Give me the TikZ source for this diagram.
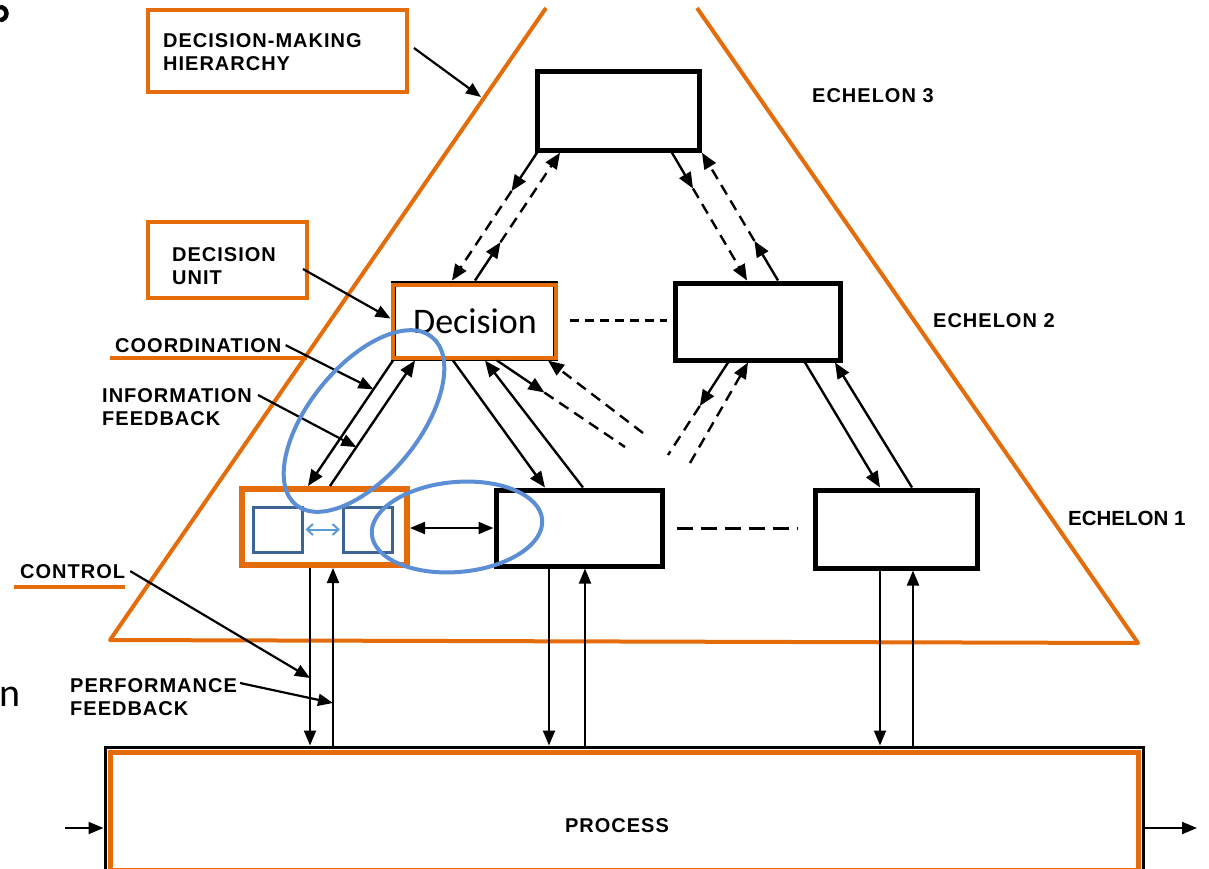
\documentclass[tikz,border=0pt]{standalone}
\usepackage{fontspec}
\setmainfont{Liberation Sans}
\newfontfamily\scanfont{Liberation Sans}[LetterSpace=5]
\newfontfamily\calfont{Carlito}
\usetikzlibrary{arrows.meta,calc,shapes.geometric}
\definecolor{orng}{RGB}{228,108,10}
\definecolor{ellblue}{RGB}{91,142,212}
\definecolor{sqblue}{RGB}{62,100,150}
\definecolor{arrblue}{RGB}{91,155,213}
\begin{document}
\begin{tikzpicture}[x=1pt,y=-1pt,
  ubox/.style={draw=black, line width=5pt, rectangle, inner sep=0pt},
  obox/.style={draw=orng, line width=4pt, rectangle, inner sep=0pt},
  conn/.style={line width=2.4pt, -{Triangle[length=16pt,width=13pt]}},
  vconn/.style={line width=2pt, -{Triangle[length=15pt,width=12pt]}},
  dconn/.style={conn, dash pattern=on 11pt off 7pt},
  dline/.style={line width=2.4pt, dash pattern=on 11pt off 7pt},
  larr/.style={line width=2.2pt, -{Triangle[length=15pt,width=12pt]}},
  lab/.style={font=\scanfont\bfseries\fontsize{20}{23}\selectfont, inner sep=0pt, align=left},
  sq/.style={draw=sqblue, line width=3pt, rectangle, inner sep=0pt, minimum width=49pt, minimum height=45pt},
  ell/.style={draw=ellblue, line width=4pt, ellipse, inner sep=0pt},
]
\useasboundingbox (0,0) rectangle (1209,868);
\fill[white] (0,0) rectangle (1209,868);
\clip (0,0) rectangle (1209,868);

% cut-off slide fragments
\draw[line width=4.5pt] (0,20) arc[start angle=90, end angle=-90, radius=6.5];
\node[font=\calfont\fontsize{40}{44}\selectfont, anchor=base west, inner sep=0pt] (fragB) at (-1,706) {n};

% orange hierarchy triangle
\draw[orng, line width=4pt, line join=round] (546,8) -- (110,640) -- (1138,643) -- (697,8);

% decision units
\node[ubox, minimum width=162pt, minimum height=78.5pt] (e3) at (618,111) {};
\node[ubox, minimum width=162pt, minimum height=75pt] (e2L) at (474,320.5) {};
\node[ubox, minimum width=164.5pt, minimum height=77pt] (e2R) at (758,321.5) {};
\node[obox, line width=6pt, minimum width=165pt, minimum height=76pt] (e1L) at (324.5,527) {};
\node[ubox, minimum width=166pt, minimum height=76pt] (e1M) at (579,528) {};
\node[ubox, minimum width=162pt, minimum height=78pt] (e1R) at (896,529) {};
\node[ubox, line width=3pt, minimum width=1038pt, minimum height=123pt] (proc) at (624,808.5) {};
\draw[orng, line width=4pt] (392.5,285) rectangle (555.5,358);
\draw[orng, line width=5pt] (110,752) rectangle (1138,870);
\node[font=\calfont\fontsize{36}{40}\selectfont, anchor=base, inner sep=0pt] (dectx) at (475,333) {Decision};

% echelon 3 <-> echelon 2
\coordinate (c1a) at (537,0 |- e3.south);
\coordinate (c1b) at (452,0 |- e2L.north);
\coordinate (c1m) at ($(c1a)!0.3!(c1b)$);
\draw[conn] (c1a) -- (c1m);
\draw[dconn] (c1m) -- (c1b);
\coordinate (c2a) at (475,0 |- e2L.north);
\coordinate (c2b) at (560,0 |- e3.south);
\coordinate (c2m) at ($(c2a)!0.3!(c2b)$);
\draw[conn] (c2a) -- (c2m);
\draw[dconn] (c2m) -- (c2b);
\coordinate (c3a) at (672,0 |- e3.south);
\coordinate (c3b) at (747,0 |- e2R.north);
\coordinate (c3m) at ($(c3a)!0.28!(c3b)$);
\draw[conn] (c3a) -- (c3m);
\draw[dconn] (c3m) -- (c3b);
\coordinate (c4a) at (778,0 |- e2R.north);
\coordinate (c4b) at (702,0 |- e3.south);
\coordinate (c4m) at ($(c4a)!0.31!(c4b)$);
\draw[conn] (c4a) -- (c4m);
\draw[dconn] (c4m) -- (c4b);

% echelon 2 (left) <-> echelon 1
\coordinate (d1a) at (393,0 |- e2L.south);
\coordinate (d1b) at (308,0 |- e1L.north);
\draw[conn] (d1a) -- (d1b);
\coordinate (d2a) at (330,0 |- e1L.north);
\coordinate (d2b) at (415,0 |- e2L.south);
\draw[conn] (d2a) -- (d2b);
\coordinate (d3a) at (453,0 |- e2L.south);
\coordinate (d3b) at (545,0 |- e1M.north);
\draw[conn] (d3a) -- (d3b);
\coordinate (d4a) at (583,0 |- e1M.north);
\coordinate (d4b) at (485,0 |- e2L.south);
\draw[conn] (d4a) -- (d4b);
\coordinate (d5a) at (497,0 |- e2L.south);
\coordinate (d5b) at (625,447);
\coordinate (d5m) at ($(d5a)!0.37!(d5b)$);
\draw[conn] (d5a) -- (d5m);
\draw[dline] (d5m) -- (d5b);
\coordinate (d6a) at (643,433);
\coordinate (d6b) at (548,0 |- e2L.south);
\draw[dconn] (d6a) -- (d6b);

% echelon 2 (right) <-> echelon 1
\coordinate (f1a) at (728,0 |- e2R.south);
\coordinate (f1b) at (668,455);
\coordinate (f1m) at ($(f1a)!0.47!(f1b)$);
\draw[conn] (f1a) -- (f1m);
\draw[dline] (f1m) -- (f1b);
\coordinate (f2a) at (690,463);
\coordinate (f2b) at (748,0 |- e2R.south);
\draw[dconn] (f2a) -- (f2b);
\coordinate (f3a) at (805,0 |- e2R.south);
\coordinate (f3b) at (880,0 |- e1R.north);
\draw[conn] (f3a) -- (f3b);
\coordinate (f4a) at (912,0 |- e1R.north);
\coordinate (f4b) at (835,0 |- e2R.south);
\draw[conn] (f4a) -- (f4b);

% lateral coordination (dashed)
\coordinate (h1a) at ([xshift=12pt]e2L.east);
\coordinate (h1b) at (h1a -| e2R.west);
\draw[line width=2.5pt, dash pattern=on 9pt off 6pt] (h1a) -- ([xshift=-6pt]h1b);
\coordinate (h2a) at ([xshift=12pt]e1M.east);
\coordinate (h2b) at (h2a -| e1R.west);
\draw[line width=3pt, dash pattern=on 16pt off 8pt] (h2a) -- ([xshift=-15pt]h2b);

% echelon 1 <-> process
\coordinate (g1a) at (310,0 |- e1L.south);
\coordinate (g1b) at (310,0 |- proc.north);
\draw[vconn] (g1a) -- (g1b);
\coordinate (g2a) at (333,0 |- proc.north);
\coordinate (g2b) at (333,0 |- e1L.south);
\draw[vconn] (g2a) -- (g2b);
\draw[vconn] (549,0 |- e1M.south) -- (549,0 |- proc.north);
\draw[vconn] (585,0 |- proc.north) -- (585,0 |- e1M.south);
\draw[vconn] (880,0 |- e1R.south) -- (880,0 |- proc.north);
\draw[vconn] (913,0 |- proc.north) -- (913,0 |- e1R.south);

% process input/output
\draw[vconn] (65,828) -- (proc.west |- 0,828);
\draw[vconn] (proc.east |- 0,828) -- (1197,828);
\node[lab, anchor=base] (proctx) at (617,832) {PROCESS};

% labels
\node[obox, minimum width=259pt, minimum height=82pt] (dmhbox) at (277.5,51) {};
\node[lab, anchor=north west] (dmhtx) at (163,33) {DECISION-MAKING\\HIERARCHY};
\coordinate (hier) at (481,97);
\draw[larr] ([xshift=5pt,yshift=3pt]dmhbox.east) -- (hier);

\node[obox, minimum width=159pt, minimum height=76pt] (dubox) at (227.5,260) {};
\node[lab, anchor=north west] (dutx) at (172,247) {DECISION\\UNIT};
\draw[larr] ([xshift=-6pt,yshift=-9pt]dubox.east) -- ([yshift=2pt]e2L.west);

\node[lab, anchor=base west] (coordtx) at (115,352) {COORDINATION};
\draw[orng, line width=3.5pt] (110,358) -- (307,358);
\draw[larr] ([xshift=4pt]coordtx.east) -- ($(d1a)!0.23!(d1b)$);

\node[lab, anchor=north west] (infotx) at (102,388) {INFORMATION\\FEEDBACK};
\draw[larr] ([xshift=6pt,yshift=-7pt]infotx.north east) -- ($(d2a)!0.31!(d2b)$);

\node[lab, anchor=base west] (ctrltx) at (20,578) {CONTROL};
\draw[orng, line width=3.5pt] (14,587) -- (125,587);
\draw[larr] ([xshift=5pt]ctrltx.east) -- (g1a |- 0,678);

\node[lab, anchor=north west] (perftx) at (70,678) {PERFORMANCE\\FEEDBACK};
\draw[larr] ([xshift=3pt,yshift=-5pt]perftx.north east) -- (g2a |- 0,703);

\node[lab, anchor=base west] (ech3) at (812,102) {ECHELON 3};
\node[lab, anchor=base west] (ech2) at (933,327) {ECHELON 2};
\node[font=\bfseries\fontsize{20.5}{24}\selectfont, anchor=base west, inner sep=0pt] (ech1) at (1068,525) {ECHELON 1};

% blue annotations
\node[sq] (sq1) at (277.5,529.5) {};
\node[sq] (sq2) at (368,529.5) {};
\draw[arrblue, line width=2pt, {Straight Barb[length=6pt,width=11pt]}-{Straight Barb[length=6pt,width=11pt]}] ([xshift=2pt]sq1.east) -- ([xshift=-2pt]sq2.west);
\draw[line width=2.2pt, {Triangle[length=15pt,width=12pt]}-{Triangle[length=15pt,width=12pt]}] ([yshift=-1pt]e1L.east) -- ([yshift=-1pt]e1L.east -| e1M.west);
\node[ell, minimum width=216pt, minimum height=110pt, rotate=51] (ell1) at (364,421) {};
\node[ell, minimum width=171pt, minimum height=90pt, rotate=5] (ell2) at (457,527) {};
\end{tikzpicture}
\end{document}
